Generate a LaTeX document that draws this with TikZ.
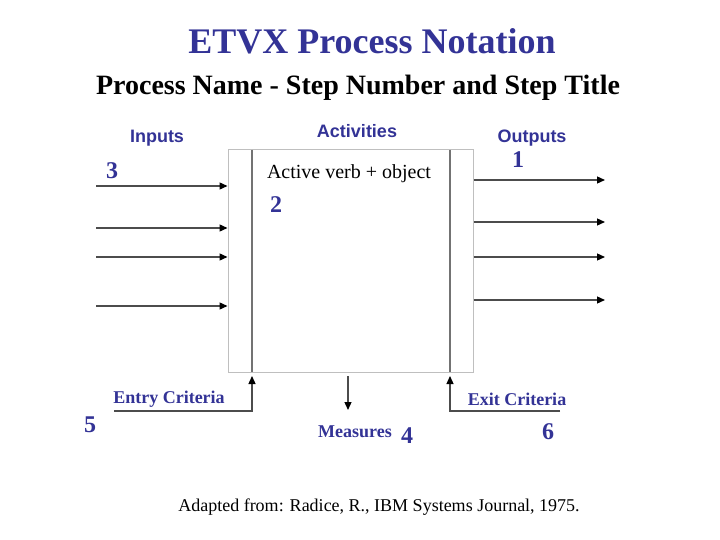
\documentclass[tikz,border=0pt]{standalone}
\usepackage{fontspec}
\setmainfont{Liberation Serif}
\newfontfamily\arialfont{Liberation Sans}
\usetikzlibrary{arrows.meta}
\definecolor{etvxblue}{RGB}{51,51,150}
\begin{document}
\begin{tikzpicture}[x=1pt,y=-1pt]
\tikzstyle{every node}+=[inner sep=0pt]
\tikzstyle{flow}=[draw=black!70, line width=1.3pt, -{Triangle[length=8pt,width=7pt,fill=black,color=black]}]
\tikzstyle{head}=[text=etvxblue, font=\arialfont\bfseries\fontsize{18}{21}\selectfont]
\tikzstyle{crit}=[text=etvxblue, font=\bfseries\fontsize{18}{21}\selectfont]
\tikzstyle{num}=[text=etvxblue, font=\bfseries\fontsize{24}{28}\selectfont]
\useasboundingbox (0,0) rectangle (720,540);
% titles
\node (title) at (372,41) {\textcolor{etvxblue}{\bfseries\fontsize{36}{40}\selectfont ETVX Process Notation}};
\node (sub) at (358,88) {\bfseries\fontsize{28}{32}\selectfont Process Name - Step Number and Step Title};
% activity box
\node[draw=black!25, line width=1pt, minimum width=245pt, minimum height=222pt] (act) at (350.5,261) {};
\draw[black!55, line width=1.3pt] (252,150) coordinate (entry top) -- (252,372) coordinate (entry);
\draw[black!55, line width=1.3pt] (450,150) coordinate (exit top) -- (450,372) coordinate (exit);
\node[head] (activities) at (357,131) {Activities};
\node[head] (inputs) at (157,138) {Inputs};
\node[head] (outputs) at (532,138) {Outputs};
\node (verb) at (349,174) {\fontsize{20}{24}\selectfont Active verb + object};
% inputs and outputs
\foreach \y in {186,228,257,306}
  \draw[flow] (96,\y) -- (act.west |- 0,\y);
\foreach \y in {180,222,257,300}
  \draw[flow] (act.east |- 0,\y) -- (605,\y);
% criteria
\coordinate (entry in) at (114,411);
\coordinate (exit in) at (560,411);
\coordinate (meas top) at (348,376);
\draw[flow] (entry in) -- (entry |- entry in) -- ([yshift=-4pt]entry);
\draw[flow] (exit in) -- (exit |- exit in) -- ([yshift=-4pt]exit);
\draw[flow] (meas top) -- ++(0,34) coordinate (meas);
\node[crit] (entry label) at (169,399) {Entry Criteria};
\node[crit] (exit label) at (517,399) {Exit Criteria};
\node[crit] (measures) at (355,432) {Measures};
% step numbers
\node[num] (n1) at (518,160) {1};
\node[num] (n2) at (276,205) {2};
\node[num] (n3) at (112,171) {3};
\node[num] (n4) at (407,436) {4};
\node[num] (n5) at (90,425) {5};
\node[num] (n6) at (548,432) {6};
\node (source) at (379,507) {\fontsize{18}{21}\selectfont Adapted from: Radice, R., IBM Systems Journal, 1975.};
\end{tikzpicture}
\end{document}
